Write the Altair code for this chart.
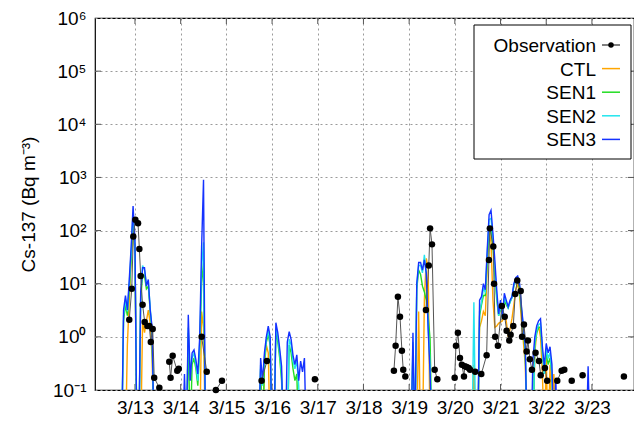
import altair as alt
import pandas as pd
import numpy as np

FONT = "Liberation Sans"

# ---- data: hours since 2011-03-13 00:00 ----
obs_hours = [-3.0, -1.7, -0.9, 0.2, 1.6, 2.3, 3.0, 4.0, 5.1, 6.5, 7.5, 8.3, 9.3, 10.1, 12.8,
             18.0, 18.7, 19.8, 22.2, 23.0,
             35.0, 37.7, 42.5, 45.7,
             66.5, 69.3, 94.5,
             136.0, 136.9, 138.1, 139.2, 140.2, 140.9, 142.0,
             152.8, 154.3, 155.0, 156.0, 157.4, 158.8,
             167.9, 168.6, 169.6, 170.7, 171.7, 172.8, 173.2, 174.2, 175.3, 176.0, 178.7, 181.9,
             184.7, 185.9, 186.4, 188.2, 188.6, 189.2, 190.6, 192.7, 194.2, 195.2, 196.6, 197.3,
             198.7, 199.7, 200.8, 202.6, 203.3, 204.3, 205.7, 206.4, 207.4, 208.5, 210.4, 212.2,
             213.1, 215.3, 216.5,
             221.8, 224.1, 225.5, 229.4, 235.1, 256.8]
obs_values = [2.1, 8, 77, 160, 137, 45, 14, 4, 1.9, 1.6, 1.6, 0.8, 1.4, 0.17, 0.11,
              0.34, 0.17, 0.44, 0.23, 0.25,
              1.0, 0.22, 0.1, 0.15,
              0.15, 0.35, 0.16,
              0.23, 0.68, 5.7, 2.4, 0.55, 0.24, 0.18,
              3.2, 22, 110, 55, 0.24, 0.16,
              0.17, 0.68, 1.2, 0.4, 0.3, 0.18, 0.28, 0.27, 0.26, 0.24, 0.22, 0.2,
              0.45, 28, 110, 50, 10, 1.0, 0.68, 3.8, 2.4, 1.3, 0.85, 1.1,
              1.6, 6.4, 11.5, 7.3, 1.0, 1.7, 0.53, 0.85, 0.38, 0.24, 0.5, 0.35,
              0.19, 0.26, 0.15,
              0.15, 0.23, 0.24, 0.15, 0.19, 0.18]

ctl_hours = [*range(-5, 11), *range(34, 38), *range(65, 72), *range(148, 156), *range(177, 222)]
ctl_values = [0.01, 0.7, 5, 30, 120, 40, 0.01, 0.01, 0.01, 2, 1.2, 2, 3.2, 1.8, 0.4, 0.01,
              0.01, 3, 1.5, 0.01,
              0.01, 0.13, 0.01, 0.3, 0.7, 0.5, 0.01,
              0.01, 3, 0.01, 0.01, 5, 30, 20, 0.01,
              0.01, 0.3, 0.01, 0.01, 1.5, 2, 3, 2.5, 20, 100,
              60, 5, 1.5, 1.6, 1.8, 1.9, 2, 2.5, 2, 1.0,
              1.4, 2.2, 4, 7.7, 10, 6, 2.0, 0.8, 0.3, 0.01,
              0.01, 0.01, 0.01, 0.5, 1.2, 1.6, 1.0, 0.2, 0.01, 0.4,
              0.01, 0.3, 0.01, 0.2, 0.01]

sen1_hours = [*range(-7, 11), *range(27, 38), *range(65, 87), *range(145, 157), *range(179, 221)]
sen1_values = [0.01, 2, 4, 2.5, 8, 30, 180, 40, 0.01, 0.01, 5, 15, 14, 8, 9, 3, 1.0, 0.01,
               0.01, 1.2, 0.01, 0.3, 0.4, 0.25, 0.12, 0.6, 10, 25, 0.01,
               0.01, 0.25, 0.01, 0.35, 0.8, 1.1, 0.7, 0.01, 0.01, 1.3, 0.8, 0.4, 0.15, 0.01, 0.01,
               0.01, 0.7, 0.5, 0.25, 0.15, 0.2, 0.01,
               0.01, 0.6, 0.01, 8, 18, 15, 9, 7, 4.9, 2.4, 0.9, 0.01,
               0.01, 0.01, 2.5, 4, 6, 6, 25, 110, 100, 50,
               15, 5, 2.5, 3.5, 2.5, 5, 4, 3.5, 4.5, 5.5,
               9, 12, 12, 8, 3, 1.3, 0.5, 0.01, 0.01, 0.01,
               0.01, 0.7, 1.2, 1.5, 1.5, 0.5, 0.2, 0.5, 0.3, 0.4,
               0.2, 0.01]

sen2_hours = [*range(-7, 11), *range(26, 38), *range(65, 88), *range(145, 157), *range(177, 221)]
sen2_values = [0.01, 2.5, 5, 3, 10, 40, 220, 50, 0.01, 0.01, 6, 22, 18, 10, 11, 3.5, 1.2, 0.01,
               0.01, 0.01, 1.5, 0.2, 0.4, 0.5, 0.3, 0.15, 0.8, 20, 60, 0.01,
               0.01, 0.3, 0.12, 0.4, 0.9, 1.3, 0.8, 0.01, 0.01, 1.5, 1.0, 0.5, 0.2, 0.01, 0.01,
               0.01, 0.9, 0.7, 0.35, 0.25, 0.35, 0.12, 0.01,
               0.01, 0.8, 0.01, 9, 22, 22, 16, 35, 15, 1.5, 0.3, 0.01,
               0.01, 4.5, 0.01, 0.01, 3, 4.5, 8, 7, 35, 160,
               170, 70, 20, 6, 2.5, 4, 2.2, 5.5, 4.5, 3.5,
               4.5, 5.5, 9.5, 12.5, 13, 9, 3.4, 1.5, 0.6, 0.01,
               0.01, 0.01, 0.01, 0.8, 1.3, 1.7, 1.8, 0.5, 0.2, 0.6,
               0.4, 0.5, 0.2, 0.01]

sen3_hours = [*range(-8, 11), *range(25, 38), *range(65, 91), *range(145, 157),
              *range(180, 207), *range(208, 223), *range(237, 240)]
sen3_values = [0.01, 0.01, 3.2, 6, 3.2, 12, 50, 290, 60, 0.01, 0.01, 7, 20, 20, 9, 12, 3.2, 1.5, 0.01,
               0.01, 0.2, 0.01, 2.6, 0.15, 0.5, 0.57, 0.37, 0.2, 1.0, 50, 900, 0.01,
               0.01, 0.4, 0.15, 0.5, 1.0, 1.6, 1.0, 0.01, 0.01, 1.85, 1.2, 0.6, 0.28, 0.01, 0.01,
               0.8, 1.25, 0.9, 0.45, 0.3, 0.46, 0.15, 0.35, 0.22, 0.4, 0.01,
               0.01, 1.2, 0.01, 10, 25, 25, 18, 28, 16, 1.35, 0.2, 0.01,
               0.01, 4.9, 5.7, 10, 7.7, 43, 200, 240, 90, 28, 7.7, 2.7, 4.9, 2.4, 6.6, 4.9, 3.7,
               4.9, 5.7, 10, 13, 14, 10, 3.7, 1.6, 0.65, 0.01,
               0.01, 0.37, 1.0, 1.6, 2.0, 2.2, 0.65, 0.28, 0.75, 0.5, 0.65, 0.3, 0.01, 0.17, 0.01,
               0.01, 0.28, 0.01]

series_names = ["CTL", "SEN1", "SEN2", "SEN3"]
series_colors = ["#ffa500", "#22dd22", "#22e5ee", "#1432ff"]
series_hours = [ctl_hours, sen1_hours, sen2_hours, sen3_hours]
series_values = [ctl_values, sen1_values, sen2_values, sen3_values]

day_ticks = list(range(0, 241, 24))      # 3/13 ... 3/23
decades = [0.1, 1, 10, 100, 1e3, 1e4, 1e5, 1e6]

for hh, vv in zip(series_hours, series_values):
    assert len(hh) == len(vv), (len(hh), len(vv))
assert len(obs_hours) == len(obs_values)

W, H = 539, 372

x_scale = alt.Scale(domain=[-21, 262.1], nice=False, zero=False)
y_scale = alt.Scale(type="log", domain=[0.1, 1e6], nice=False)

x_axis = alt.Axis(values=day_ticks,
                  labelExpr="'3/' + (13 + round(datum.value / 24))",
                  title=None, grid=True, gridDash=[2, 3], gridColor="#9a9a9a",
                  ticks=False, domain=False, labelFont=FONT, labelFontSize=19,
                  labelColor="black", labelPadding=8, labelFlush=False)
y_axis = alt.Axis(values=decades,
                  labelExpr="'10' + ['⁻¹','⁰','¹','²','³','⁴','⁵','⁶'][round(log(datum.value) / LN10) + 1]",
                  title="Cs-137 (Bq m⁻³)", titleFont=FONT, titleFontSize=19,
                  titleFontWeight="normal", titleColor="black", titlePadding=14,
                  grid=True, gridDash=[2, 3], gridColor="#9a9a9a",
                  ticks=False, domain=False, labelFont=FONT, labelFontSize=19,
                  labelColor="black", labelPadding=9, labelFlush=False)

x_enc = alt.X("h:Q", scale=x_scale, axis=x_axis)
y_enc = alt.Y("v:Q", scale=y_scale, axis=y_axis)

layers = []

# inward tick marks
xt = pd.DataFrame({"h": day_ticks})
yt = pd.DataFrame({"v": decades[1:-1]})
layers.append(alt.Chart(xt).mark_rule(color="#555", strokeWidth=1).encode(
    x=x_enc, y=alt.value(H - 6), y2=alt.value(H)))
layers.append(alt.Chart(xt).mark_rule(color="#555", strokeWidth=1).encode(
    x=x_enc, y=alt.value(0), y2=alt.value(6)))
layers.append(alt.Chart(yt).mark_rule(color="#555", strokeWidth=1).encode(
    y=y_enc, x=alt.value(0), x2=alt.value(6)))
layers.append(alt.Chart(yt).mark_rule(color="#555", strokeWidth=1).encode(
    y=y_enc, x=alt.value(W - 6), x2=alt.value(W)))

# model series
for name, col, hh, vv in zip(series_names, series_colors, series_hours, series_values):
    df = pd.DataFrame({"h": hh, "v": vv, "series": name})
    layers.append(alt.Chart(df).mark_line(color=col, strokeWidth=1.4, clip=True).encode(
        x=x_enc, y=y_enc))

# observations
obs = pd.DataFrame({"h": obs_hours, "v": obs_values})
obs["seg"] = (np.diff(np.array(obs_hours), prepend=obs_hours[0]) > 3.5).cumsum()
layers.append(alt.Chart(obs).mark_line(color="#555555", strokeWidth=1, clip=True).encode(
    x=x_enc, y=y_enc, detail="seg:N"))
layers.append(alt.Chart(obs).mark_circle(color="black", size=42, opacity=1).encode(
    x=x_enc, y=y_enc))

# legend
one = pd.DataFrame({"k": [0]})
layers.append(alt.Chart(one).mark_rect(fill="white", stroke="black", strokeWidth=1).encode(
    x=alt.value(379), x2=alt.value(536), y=alt.value(7), y2=alt.value(141)))
legend_names = ["Observation"] + series_names
legend_y = [27, 50.6, 74.2, 97.8, 121.4]
for i, nm in enumerate(legend_names):
    layers.append(alt.Chart(one).mark_text(align="right", baseline="middle", font=FONT,
                                           fontSize=19, color="black", text=nm).encode(
        x=alt.value(501), y=alt.value(legend_y[i] + 1)))
    col = "#555555" if i == 0 else series_colors[i - 1]
    layers.append(alt.Chart(one).mark_rule(color=col, strokeWidth=1.5).encode(
        x=alt.value(507), x2=alt.value(525), y=alt.value(legend_y[i])))
layers.append(alt.Chart(one).mark_circle(color="black", size=30, opacity=1).encode(
    x=alt.value(516), y=alt.value(legend_y[0])))

chart = alt.layer(*layers).properties(
    width=W, height=H, autosize="none",
    padding={"left": 87, "top": 10, "right": 0, "bottom": 30},
    background="white",
).configure_view(stroke="black", strokeWidth=1.2)

chart.save("out.html", embed_options={"renderer": "svg", "actions": False})
